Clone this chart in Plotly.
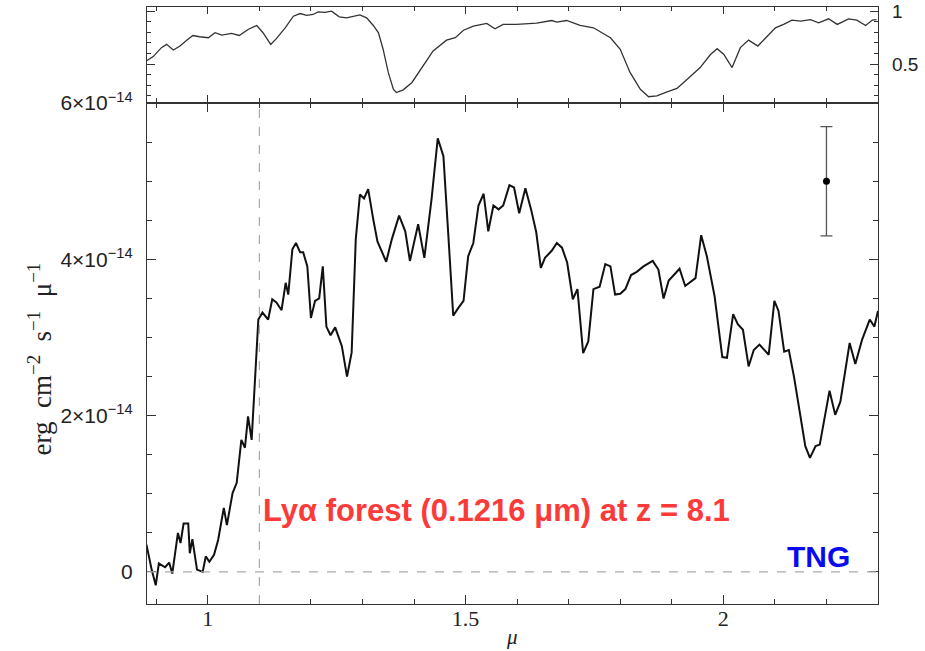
import numpy as np
import plotly.graph_objects as go

# ---------------- data ----------------
# Main spectrum: wavelength (micron) and flux (units of 1e-14 erg cm^-2 s^-1 micron^-1)
wave = [0.881, 0.891, 0.899, 0.905, 0.917, 0.925, 0.931, 0.942, 0.947, 0.953,
        0.962, 0.965, 0.970, 0.979, 0.990, 0.996, 1.003, 1.012, 1.020, 1.031,
        1.037, 1.048, 1.056, 1.065, 1.072, 1.078, 1.085, 1.098, 1.106, 1.117,
        1.125, 1.133, 1.143, 1.151, 1.156, 1.164, 1.171, 1.179, 1.185, 1.193,
        1.200, 1.208, 1.216, 1.223, 1.230, 1.238, 1.247, 1.260, 1.270, 1.279,
        1.287, 1.295, 1.303, 1.311, 1.321, 1.329, 1.346, 1.357, 1.371, 1.383,
        1.392, 1.408, 1.420, 1.434, 1.446, 1.457, 1.467, 1.476, 1.486, 1.496,
        1.505, 1.515, 1.525, 1.535, 1.544, 1.554, 1.564, 1.573, 1.585, 1.594,
        1.604, 1.616, 1.627, 1.637, 1.646, 1.654, 1.667, 1.677, 1.687, 1.697,
        1.708, 1.717, 1.728, 1.738, 1.748, 1.760, 1.771, 1.781, 1.790, 1.800,
        1.810, 1.821, 1.832, 1.845, 1.863, 1.874, 1.884, 1.894, 1.904, 1.915,
        1.926, 1.936, 1.946, 1.957, 1.968, 1.983, 1.998, 2.007, 2.019, 2.028,
        2.038, 2.049, 2.059, 2.070, 2.088, 2.099, 2.107, 2.118, 2.127, 2.137,
        2.148, 2.159, 2.168, 2.179, 2.187, 2.198, 2.206, 2.217, 2.227, 2.245,
        2.256, 2.269, 2.284, 2.293, 2.300]
flux = [0.35, 0.03, -0.17, 0.11, 0.06, 0.12, -0.02, 0.50, 0.37, 0.62,
        0.62, 0.24, 0.42, 0.03, 0.00, 0.20, 0.13, 0.22, 0.41, 0.82,
        0.60, 1.01, 1.14, 1.69, 1.59, 1.99, 1.69, 3.23, 3.32, 3.23,
        3.49, 3.45, 3.35, 3.70, 3.55, 4.13, 4.21, 4.09, 4.09, 3.91,
        3.25, 3.47, 3.50, 3.91, 3.14, 3.03, 3.13, 2.89, 2.50, 2.81,
        4.26, 4.83, 4.78, 4.90, 4.51, 4.23, 3.97, 4.26, 4.56, 4.36,
        3.98, 4.45, 4.02, 4.77, 5.55, 5.32, 4.26, 3.28, 3.38, 3.47,
        4.04, 4.21, 4.69, 4.84, 4.36, 4.69, 4.64, 4.69, 4.95, 4.92,
        4.59, 4.91, 4.64, 4.35, 3.89, 4.02, 4.11, 4.21, 4.15, 3.96,
        3.49, 3.62, 2.80, 2.95, 3.62, 3.65, 3.94, 3.91, 3.55, 3.56,
        3.62, 3.80, 3.84, 3.91, 3.98, 3.87, 3.50, 3.73, 3.80, 3.88,
        3.66, 3.71, 3.76, 4.31, 4.04, 3.53, 2.75, 2.74, 3.30, 3.17,
        3.10, 2.63, 2.84, 2.91, 2.78, 3.47, 3.34, 2.82, 2.84, 2.50,
        2.06, 1.61, 1.46, 1.61, 1.63, 2.03, 2.32, 2.01, 2.18, 2.93,
        2.66, 2.97, 3.23, 3.14, 3.34]

# Top panel: atmospheric transmission
trans_wave = [0.881, 0.894, 0.910, 0.920, 0.933, 0.946, 0.959, 0.971, 0.984, 1.001,
              1.014, 1.027, 1.046, 1.061, 1.078, 1.095, 1.107, 1.122, 1.133, 1.150,
              1.166, 1.179, 1.192, 1.204, 1.214, 1.227, 1.240, 1.255, 1.269, 1.282,
              1.295, 1.308, 1.321, 1.331, 1.340, 1.350, 1.360, 1.366, 1.379, 1.396,
              1.415, 1.437, 1.463, 1.480, 1.496, 1.515, 1.541, 1.557, 1.573, 1.599,
              1.638, 1.667, 1.677, 1.696, 1.722, 1.748, 1.781, 1.800, 1.819, 1.839,
              1.855, 1.871, 1.891, 1.910, 1.930, 1.955, 1.975, 1.988, 2.001, 2.017,
              2.033, 2.049, 2.067, 2.085, 2.101, 2.117, 2.133, 2.150, 2.169, 2.185,
              2.204, 2.221, 2.243, 2.259, 2.276, 2.289, 2.297]
trans = [0.53, 0.57, 0.655, 0.686, 0.632, 0.67, 0.726, 0.77, 0.758, 0.749,
         0.796, 0.774, 0.79, 0.77, 0.827, 0.865, 0.796, 0.686, 0.74, 0.843,
         0.953, 0.978, 0.96, 0.969, 0.994, 0.99, 1.0, 0.947, 0.937, 0.953,
         0.966, 0.937, 0.865, 0.796, 0.64, 0.42, 0.26, 0.23, 0.255, 0.325,
         0.466, 0.623, 0.726, 0.749, 0.82, 0.858, 0.884, 0.834, 0.875, 0.875,
         0.887, 0.912, 0.896, 0.912, 0.865, 0.843, 0.749, 0.64, 0.42, 0.26,
         0.19, 0.198, 0.236, 0.268, 0.356, 0.466, 0.59, 0.645, 0.59, 0.466,
         0.655, 0.726, 0.67, 0.764, 0.843, 0.875, 0.916, 0.906, 0.92, 0.89,
         0.928, 0.875, 0.928, 0.916, 0.865, 0.916, 0.92]

# representative error bar
err_x = [2.2]
err_y = [5.0]
err_size = [0.7]

lya_edge = 1.1  # micron

y_tickvals = [0, 2, 4, 6]
y_ticktext = ["0", "2×10<sup>−14</sup>", "4×10<sup>−14</sup>", "6×10<sup>−14</sup>"]
x_tickvals = [1, 1.5, 2]
x_ticktext = ["1", "1.5", "2"]
t_tickvals = [0.5, 1]
t_ticktext = ["0.5", "1"]

SCALE = 1e-14
flux_arr = np.array(flux) * SCALE

# ---------------- figure ----------------
fig = go.Figure()

fig.add_trace(go.Scatter(x=wave, y=flux_arr, mode="lines",
                         line=dict(color="#111111", width=2),
                         xaxis="x", yaxis="y", showlegend=False))

fig.add_trace(go.Scatter(x=err_x, y=np.array(err_y) * SCALE, mode="markers",
                         marker=dict(color="black", size=7),
                         error_y=dict(type="data", array=np.array(err_size) * SCALE,
                                      color="#555555", thickness=1.3, width=6),
                         xaxis="x", yaxis="y", showlegend=False))

fig.add_trace(go.Scatter(x=trans_wave, y=trans, mode="lines",
                         line=dict(color="#333333", width=1.3),
                         xaxis="x2", yaxis="y2", showlegend=False))

axis_line = dict(showline=True, linecolor="#333333", linewidth=1.3,
                 mirror="allticks", ticks="inside", tickcolor="#333333",
                 showgrid=False, zeroline=False, automargin=False)

fig.update_layout(
    width=925, height=651,
    margin=dict(l=147, r=47, t=7, b=47),
    paper_bgcolor="white", plot_bgcolor="white",
    xaxis=dict(**axis_line, domain=[0, 1], range=[0.882, 2.3], anchor="y",
               tickmode="array", tickvals=x_tickvals, ticktext=x_ticktext,
               ticklen=9, tickwidth=1.2,
               minor=dict(tickmode="linear", tick0=0, dtick=0.1, ticklen=5,
                          ticks="inside", tickcolor="#333333"),
               tickfont=dict(family="Liberation Serif", size=22, color="#222222"),
               ticklabelstandoff=-6),
    yaxis=dict(**axis_line, domain=[0, 0.839],
               range=[-0.41 * SCALE, 6 * SCALE], anchor="x",
               tickmode="array", tickvals=[v * SCALE for v in y_tickvals],
               ticktext=y_ticktext, ticklen=9, tickwidth=1.2,
               minor=dict(tickmode="linear", tick0=0, dtick=0.5 * SCALE,
                          ticklen=5, ticks="inside", tickcolor="#333333"),
               tickfont=dict(family="Liberation Sans", size=21, color="#222222"),
               ticklabelstandoff=9),
    xaxis2=dict(**axis_line, domain=[0, 1], range=[0.882, 2.3], anchor="y2",
                matches="x", showticklabels=False,
                tickmode="array", tickvals=x_tickvals, ticklen=7, tickwidth=1.2,
                minor=dict(tickmode="linear", tick0=0, dtick=0.1, ticklen=4,
                           ticks="inside", tickcolor="#333333")),
    yaxis2=dict(**axis_line, domain=[0.84, 1], range=[0.135, 1.04],
                anchor="x2", side="right",
                tickmode="array", tickvals=t_tickvals, ticktext=t_ticktext,
                ticklen=8, tickwidth=1.2,
                minor=dict(tickmode="linear", tick0=0, dtick=0.1, ticklen=4,
                           ticks="inside", tickcolor="#333333"),
                tickfont=dict(family="Liberation Sans", size=19, color="#222222"),
                ticklabelstandoff=9),
    shapes=[
        dict(type="line", xref="x", yref="y domain", x0=lya_edge, x1=lya_edge,
             y0=0, y1=1, line=dict(color="#aaaaaa", width=1.2, dash="dash")),
        dict(type="line", xref="x domain", yref="y", x0=0, x1=1, y0=0, y1=0,
             line=dict(color="#aaaaaa", width=1.2, dash="dash")),
    ],
    annotations=[
        dict(text="Lyα forest (0.1216 μm) at z = 8.1", xref="x", yref="y",
             x=1.103, y=0.79 * SCALE, xanchor="left", yanchor="middle",
             showarrow=False,
             font=dict(family="Liberation Sans", size=31,
                       color="#fb3a3a", weight="bold")),
        dict(text="TNG", xref="x", yref="y", x=2.2505, y=0.2 * SCALE,
             xanchor="right", yanchor="middle", showarrow=False,
             font=dict(family="Liberation Sans", size=30,
                       color="#0a0aee", weight="bold")),
        dict(text="erg\u00a0\u00a0cm<sup>−2</sup>\u00a0\u00a0s<sup>−1</sup>\u00a0\u00a0μ<sup>−1</sup>",
             xref="paper", yref="paper", x=-0.146, y=0.41, textangle=-90,
             xanchor="center", yanchor="middle", showarrow=False,
             font=dict(family="Liberation Serif", size=27, color="#222222")),
        dict(text="<i>μ</i>", xref="x", yref="paper", x=1.59, y=-0.056,
             xanchor="center", yanchor="middle", showarrow=False,
             font=dict(family="Liberation Serif", size=21, color="#222222")),
    ],
)

fig.write_html("out.html")
